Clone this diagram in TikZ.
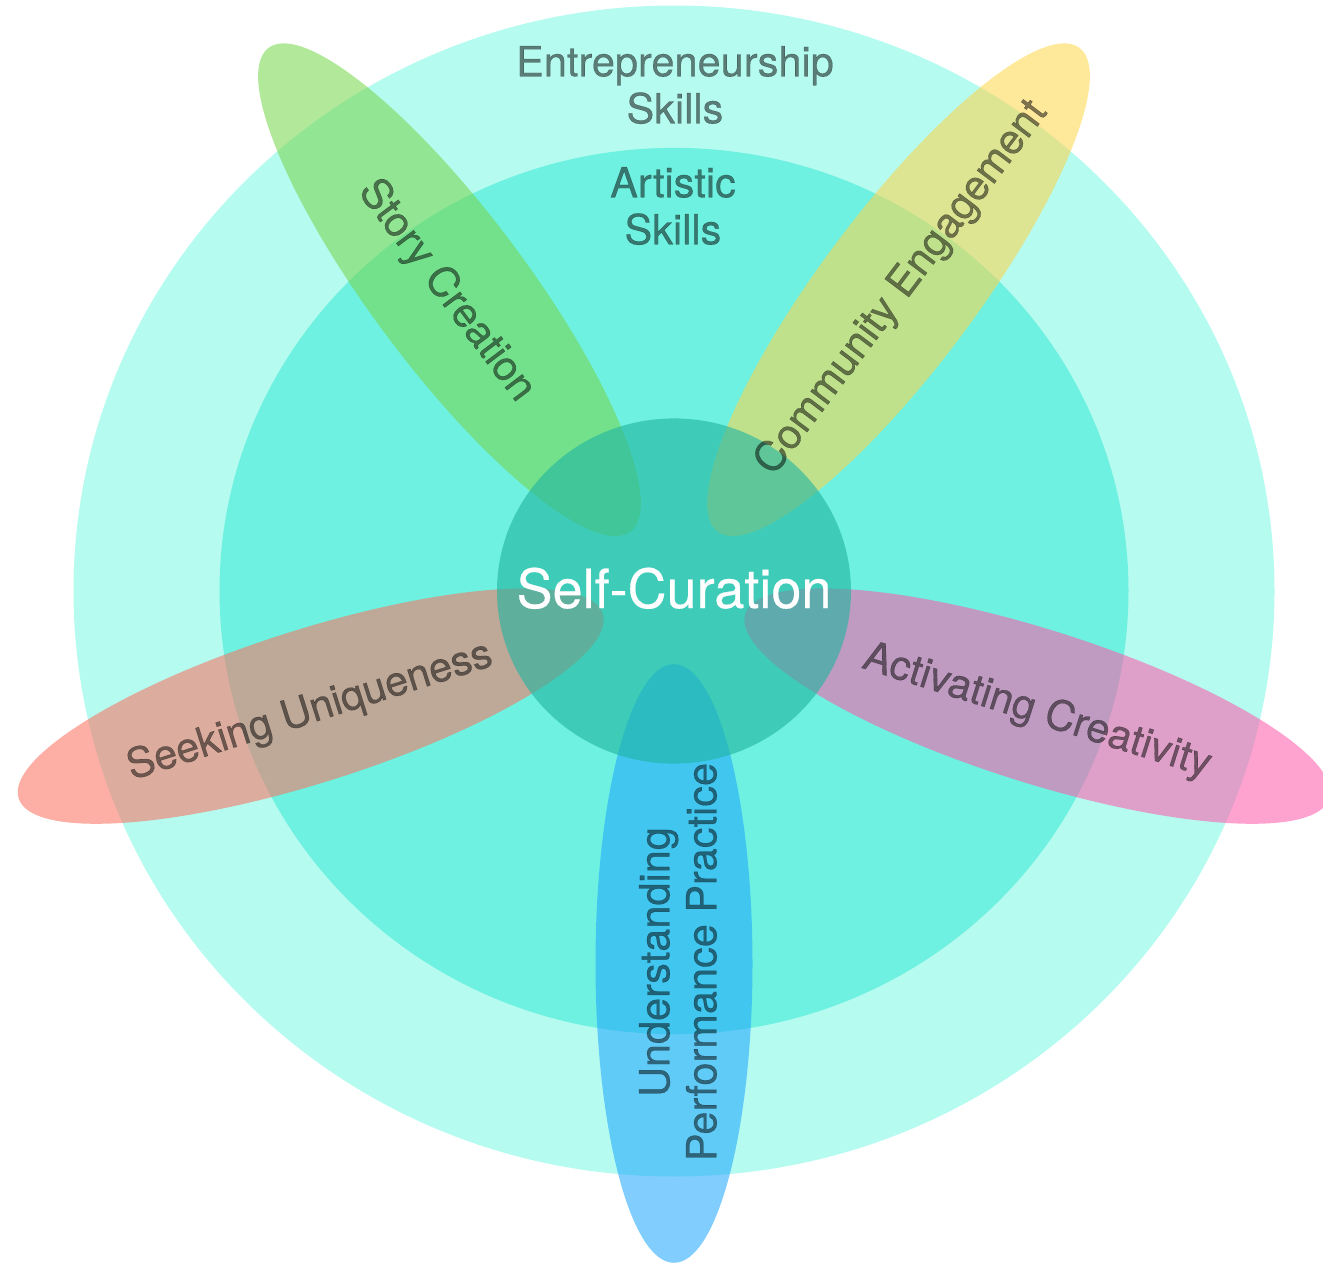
\documentclass[tikz,border=0pt]{standalone}
\usepackage{fontspec}
\setmainfont{TeX Gyre Heros}
\newfontfamily\heavyfont[FakeBold=0.4]{TeX Gyre Heros}
\definecolor{outerc}{RGB}{181,251,240}
\definecolor{middlec}{RGB}{110,241,224}
\definecolor{innerc}{RGB}{30,180,160}
\definecolor{bluep}{RGB}{32,167,253}
\definecolor{greenp}{RGB}{119,214,77}
\definecolor{yellowp}{RGB}{253,214,77}
\definecolor{redp}{RGB}{251,114,96}
\definecolor{pinkp}{RGB}{254,91,170}
\begin{document}
\begin{tikzpicture}[x=1pt,y=1pt,
  petal/.style={fill opacity=0.57},
  lbl/.style={text=black, text opacity=0.5, font=\heavyfont\fontsize{41.5}{47}\selectfont, align=center, inner sep=0pt},
  mainlbl/.style={text=white, font=\heavyfont\fontsize{54}{60}\selectfont, inner sep=0pt}]
\useasboundingbox (0,0) rectangle (1323,-1264);
\begin{scope}[shift={(674,-591)}, yscale=0.975]
  \fill[outerc] (0,0) circle (600.5);
  \fill[middlec] (0,0) circle (454.5);
  \fill[petal, greenp, rotate=126] (382,0) ellipse [x radius=307, y radius=78.5];
  \fill[petal, yellowp, rotate=54] (382,0) ellipse [x radius=307, y radius=78.5];
  \fill[petal, pinkp, rotate=-18] (382,0) ellipse [x radius=307, y radius=78.5];
  \fill[petal, bluep, rotate=-90] (382,0) ellipse [x radius=307, y radius=78.5];
  \fill[petal, redp, rotate=198] (382,0) ellipse [x radius=307, y radius=78.5];
  \fill[innerc, fill opacity=0.6] (0,0) circle (177);
\end{scope}
\node[lbl] (ent) at (675,-85) {Entrepreneurship\\Skills};
\node[lbl] (art) at (673,-206) {Artistic\\Skills};
\node[lbl, rotate=-53] (story) at (446,-291) {Story Creation};
\node[lbl, rotate=53] (comm) at (902,-288) {Community Engagement};
\node[lbl, rotate=17.6] (seek) at (310,-712) {Seeking Uniqueness};
\node[lbl, rotate=-17.6] (activ) at (1037,-712) {Activating Creativity};
\node[lbl, rotate=90] (under) at (678,-962) {Understanding\\Performance Practice};
\node[mainlbl, anchor=base] (self) at (674,-608) {Self-Curation};
\end{tikzpicture}
\end{document}
